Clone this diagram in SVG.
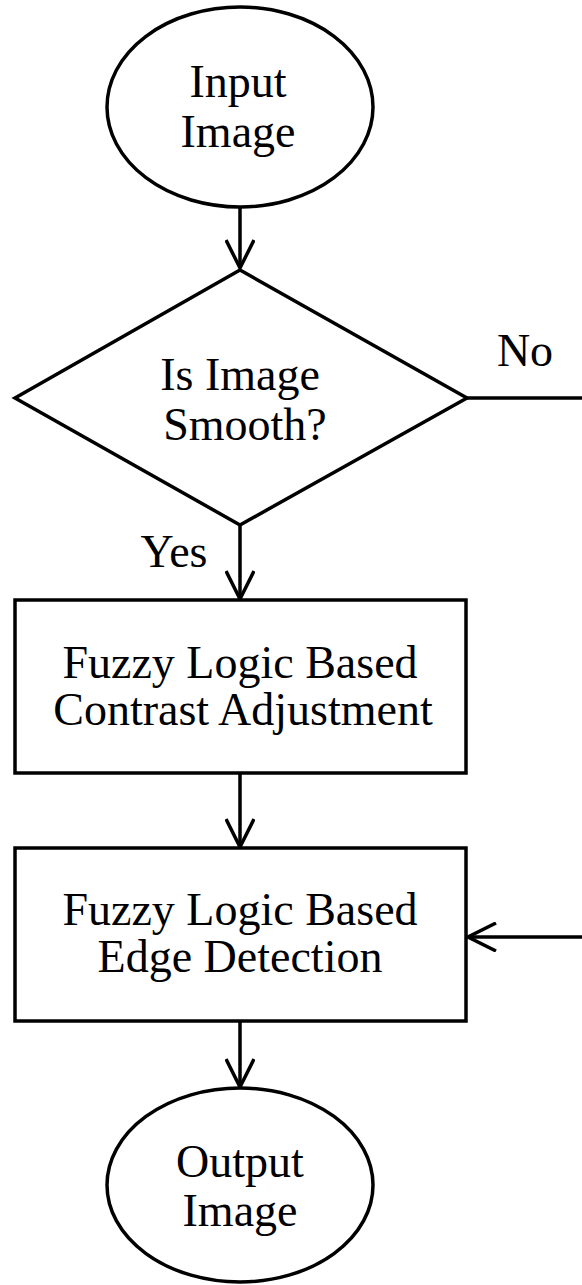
<svg xmlns="http://www.w3.org/2000/svg" width="582" height="1285" viewBox="0 0 582 1285">
  <style>
    .shape { fill: #fff; stroke: #000; stroke-width: 3.5; }
    .wire { fill: none; stroke: #000; stroke-width: 3.5; }
    .label { font-family: "Liberation Serif", "Times New Roman", serif; font-size: 46px; fill: #000; text-anchor: middle; }
  </style>
  <defs>
    <marker id="vhead" viewBox="0 0 30 30" refX="29" refY="15" markerWidth="30" markerHeight="30" markerUnits="userSpaceOnUse" orient="auto">
      <path d="M1 1 L29 15 L1 29" fill="none" stroke="#000" stroke-width="3.5"/>
    </marker>
  </defs>
  <rect width="582" height="1285" fill="#fff"/>

  <g id="connectors">
    <line class="wire" x1="240" y1="207" x2="240" y2="268" marker-end="url(#vhead)"/>
    <line class="wire" x1="467" y1="398" x2="582" y2="398"/>
    <line class="wire" x1="240" y1="525" x2="240" y2="599" marker-end="url(#vhead)"/>
    <line class="wire" x1="240" y1="773" x2="240" y2="847" marker-end="url(#vhead)"/>
    <line class="wire" x1="582" y1="937" x2="468" y2="937" marker-end="url(#vhead)"/>
    <line class="wire" x1="240" y1="1021" x2="240" y2="1087" marker-end="url(#vhead)"/>
    <text class="label" x="525" y="366">No</text>
    <text class="label" x="174" y="567">Yes</text>
  </g>

  <g id="input-image">
    <ellipse class="shape" cx="240" cy="107" rx="133" ry="100"/>
    <text class="label" x="238" y="97">Input</text>
    <text class="label" x="238" y="147">Image</text>
  </g>

  <g id="is-smooth">
    <polygon class="shape" points="240,270 467,398 240,525 15,398"/>
    <text class="label" x="240" y="390">Is Image</text>
    <text class="label" x="245" y="440">Smooth?</text>
  </g>

  <g id="contrast-adjustment">
    <rect class="shape" x="15" y="600" width="451" height="173"/>
    <text class="label" x="240" y="678">Fuzzy Logic Based</text>
    <text class="label" x="243" y="725">Contrast Adjustment</text>
  </g>

  <g id="edge-detection">
    <rect class="shape" x="15" y="848" width="451" height="173"/>
    <text class="label" x="240" y="925">Fuzzy Logic Based</text>
    <text class="label" x="240" y="972">Edge Detection</text>
  </g>

  <g id="output-image">
    <ellipse class="shape" cx="240" cy="1185" rx="133" ry="97"/>
    <text class="label" x="240" y="1177">Output</text>
    <text class="label" x="240" y="1226">Image</text>
  </g>
</svg>
